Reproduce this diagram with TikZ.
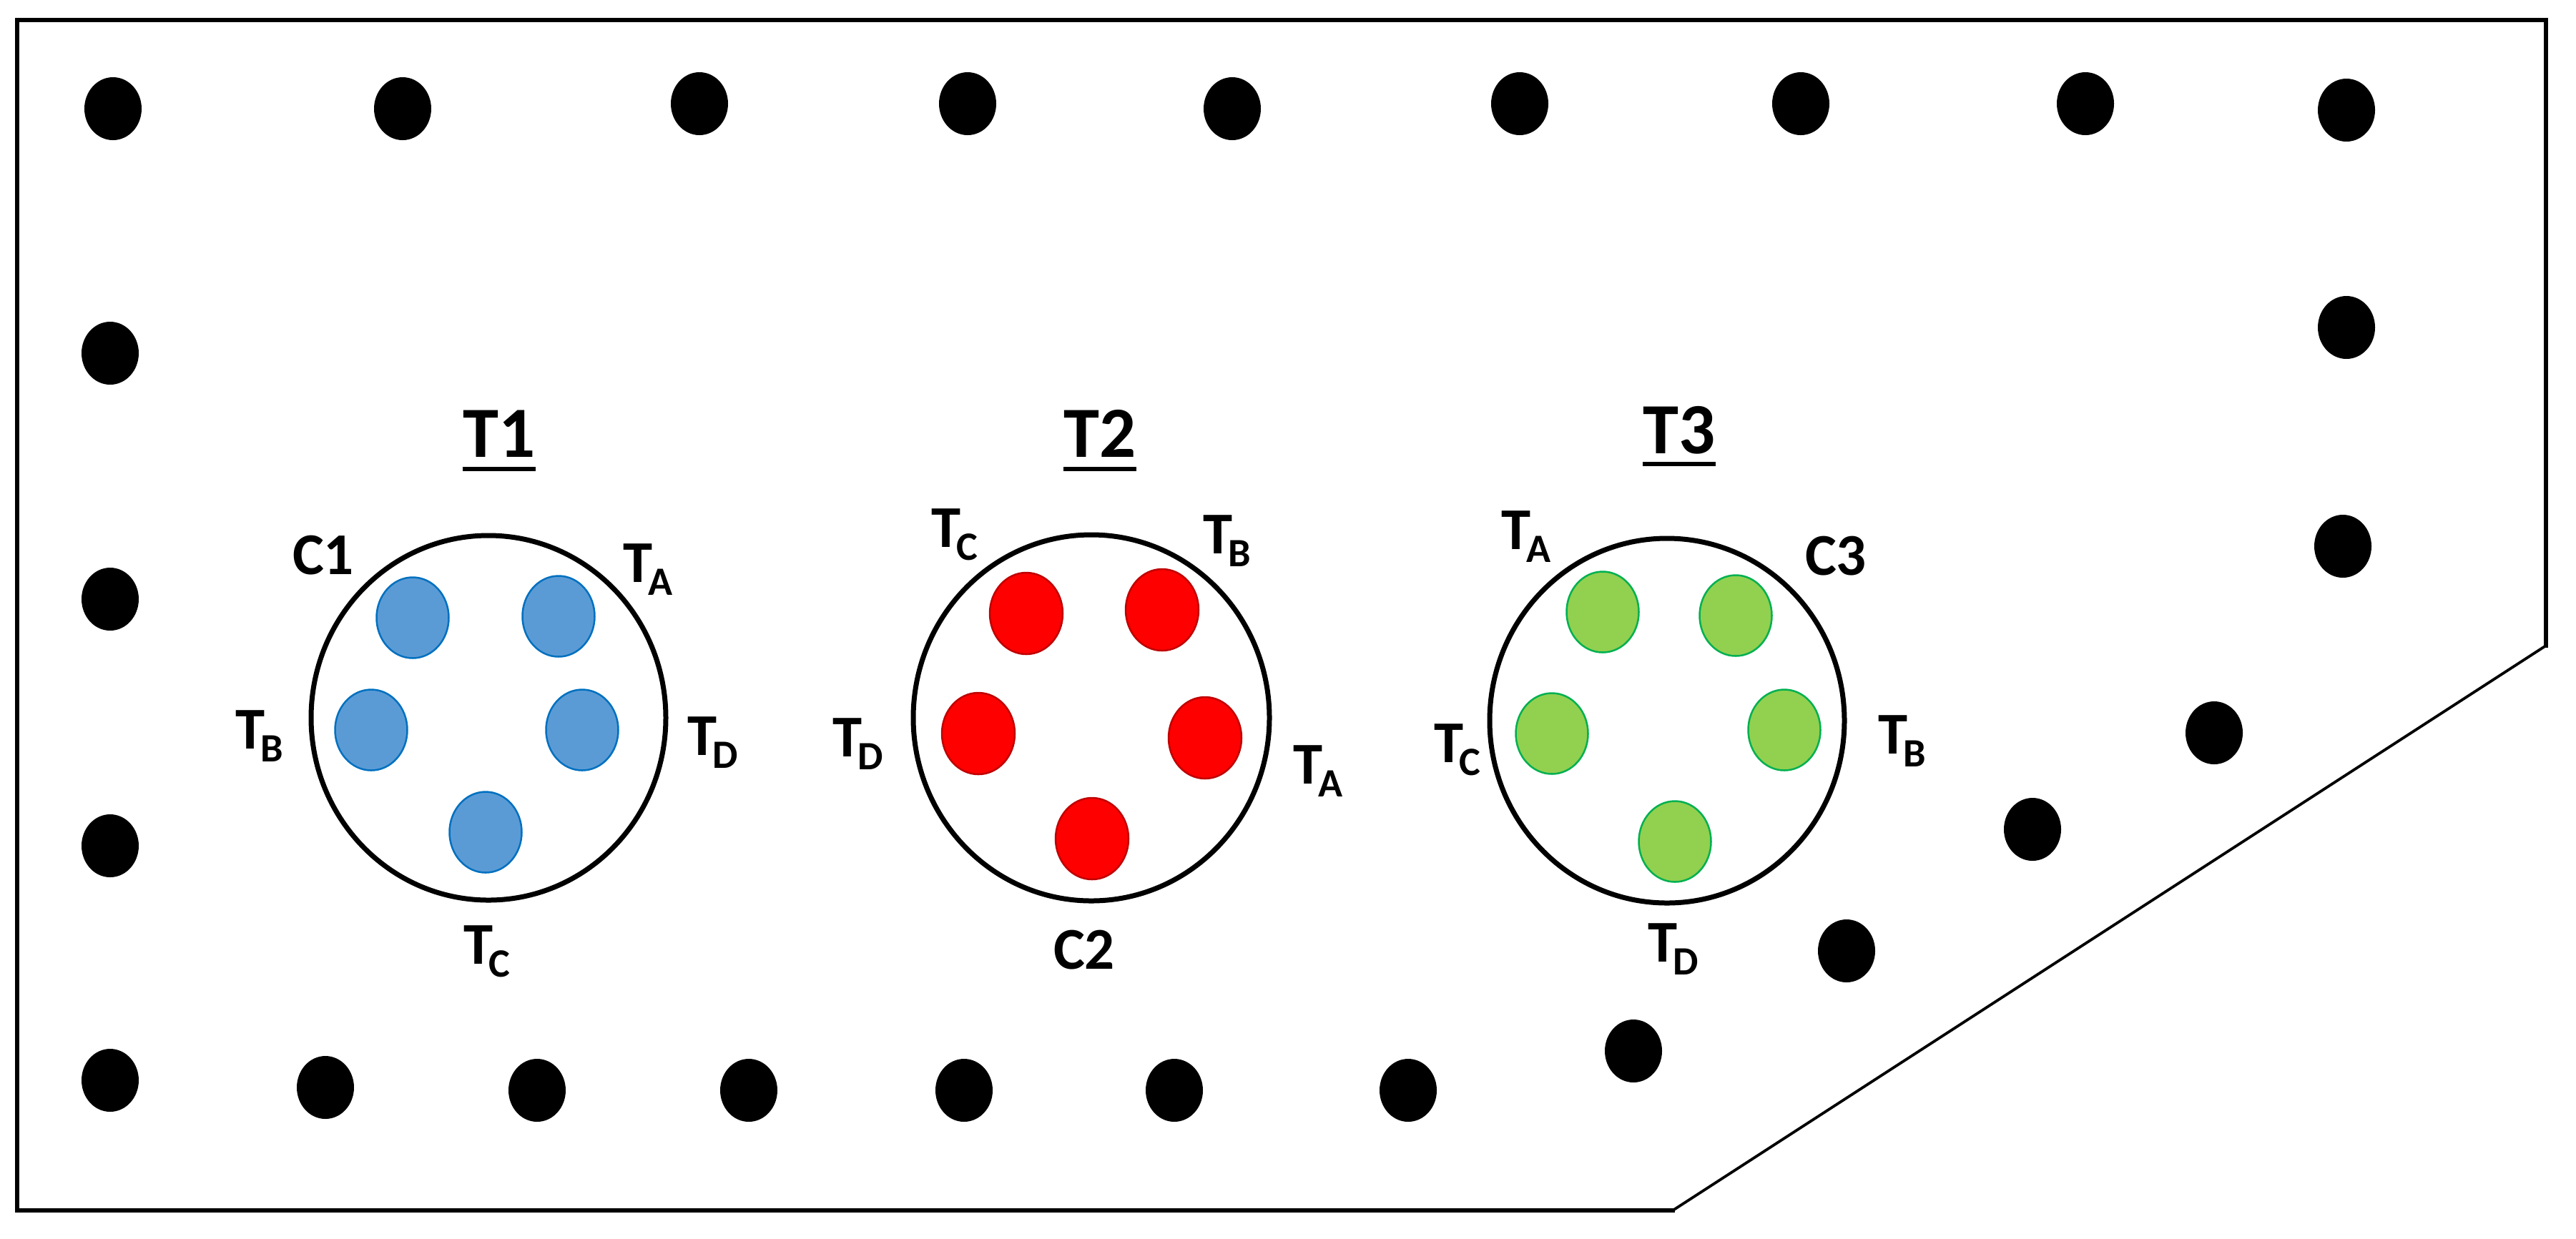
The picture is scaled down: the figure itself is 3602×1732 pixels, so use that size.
\documentclass[tikz,border=0pt]{standalone}
\usepackage{fontspec}
\setmainfont{Carlito}
\definecolor{bluefill}{HTML}{5B9BD5}
\definecolor{blueedge}{HTML}{0070C0}
\definecolor{redfill}{HTML}{FF0000}
\definecolor{rededge}{HTML}{C00000}
\definecolor{greenfill}{HTML}{92D050}
\definecolor{greenedge}{HTML}{00B050}
\newcommand{\Tsb}[1]{T\kern-0.6mm\raisebox{-1.8mm}{\fontsize{16}{16}\selectfont #1}}
\tikzset{
  bolt/.style={fill=black},
  ring/.style={draw=black, line width=0.7mm},
  tubeblue/.style={fill=bluefill, draw=blueedge, line width=0.25mm},
  tubered/.style={fill=redfill, draw=rededge, line width=0.25mm},
  tubegreen/.style={fill=greenfill, draw=greenedge, line width=0.25mm},
  lbl/.style={font=\fontsize{23.6}{24}\selectfont\bfseries, inner sep=0pt},
  ttl/.style={font=\fontsize{28.7}{29}\selectfont\bfseries, inner sep=0pt, anchor=base},
  plate/.style={line width=0.6mm, line join=miter, line cap=rect},
}
\begin{document}
\begin{tikzpicture}[x=0.1mm, y=-0.1mm]
\useasboundingbox (0,0) rectangle (3602,1732);
% plate outline
\coordinate (p1) at (24,28);
\coordinate (p2) at (3560,28);
\coordinate (p3) at (3560,903);
\coordinate (p4) at (2339,1693);
\coordinate (p5) at (24,1693);
\draw[plate] (p4) -- (p5) -- (p1) -- (p2) -- (p3);
\draw[line width=0.38mm] (p3) -- (p4);
% bolts
\foreach \x/\y in {158/152, 563/152, 978/145, 1353/145, 1723/152, 2125/145, 2518/145, 2916/145, 3281/154,
  3281/458, 3276/764,
  154/494, 154/838, 154/1183, 154/1511,
  455/1521, 751/1525, 1047/1525, 1348/1525, 1642/1525, 1969/1525,
  2284/1470, 2582/1330, 2842/1160, 3096/1025}
  \fill[bolt] (\x,\y) ellipse [x radius=4mm, y radius=4.4mm];
% T1
\draw[ring] (683,1004) ellipse [x radius=24.8mm, y radius=25.5mm];
\foreach \x/\y in {577/864, 781/862, 519/1021, 814/1021, 679/1164}
  \draw[tubeblue] (\x,\y) ellipse [x radius=5.05mm, y radius=5.65mm];
\node[ttl] (t1) at (698,639) {T1};
\draw[line width=0.55mm] ([yshift=-1.7mm]t1.base west) -- ([yshift=-1.7mm]t1.base east);
\node[lbl] (c1) at (452,777) {C1};
\node[lbl] (t1a) at (906,797) {\Tsb{A}};
\node[lbl] (t1b) at (363,1030) {\Tsb{B}};
\node[lbl] (t1d) at (997,1039) {\Tsb{D}};
\node[lbl] (t1c) at (681,1331) {\Tsb{C}};
% T2
\draw[ring] (1526,1004) ellipse [x radius=24.9mm, y radius=25.6mm];
\foreach \x/\y in {1435/858, 1625/853, 1368/1026, 1685/1032, 1527/1173}
  \draw[tubered] (\x,\y) ellipse [x radius=5.1mm, y radius=5.7mm];
\node[ttl] (t2) at (1538,639) {T2};
\draw[line width=0.55mm] ([yshift=-1.7mm]t2.base west) -- ([yshift=-1.7mm]t2.base east);
\node[lbl] (t2c) at (1335,748) {\Tsb{C}};
\node[lbl] (t2b) at (1716,757) {\Tsb{B}};
\node[lbl] (t2d) at (1200,1041) {\Tsb{D}};
\node[lbl] (t2a) at (1843,1079) {\Tsb{A}};
\node[lbl] (c2) at (1516,1329) {C2};
% T3
\draw[ring] (2331,1008) ellipse [x radius=24.8mm, y radius=25.5mm];
\foreach \x/\y in {2241/856, 2427/861, 2170/1026, 2495/1021, 2342/1177}
  \draw[tubegreen] (\x,\y) ellipse [x radius=5.05mm, y radius=5.65mm];
\node[ttl] (t3) at (2348,634) {T3};
\draw[line width=0.55mm] ([yshift=-1.5mm]t3.base west) -- ([yshift=-1.5mm]t3.base east);
\node[lbl] (t3a) at (2134,751) {\Tsb{A}};
\node[lbl] (c3) at (2567,778) {C3};
\node[lbl] (t3c) at (2038,1049) {\Tsb{C}};
\node[lbl] (t3b) at (2660,1037) {\Tsb{B}};
\node[lbl] (t3d) at (2340,1328) {\Tsb{D}};
\end{tikzpicture}
\end{document}
